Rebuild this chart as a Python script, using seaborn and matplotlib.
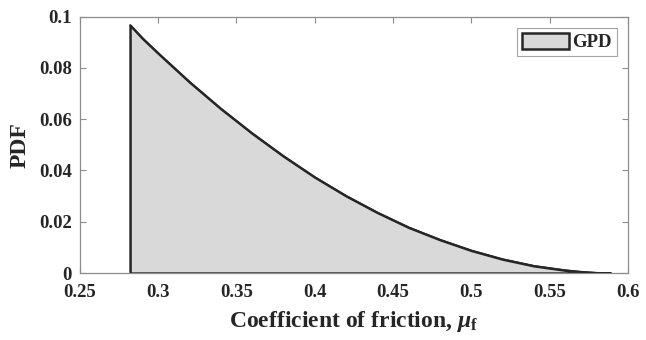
import matplotlib
matplotlib.use("Agg")
import matplotlib.pyplot as plt
from matplotlib.patches import Patch
import seaborn as sns
import pandas as pd

# Fitted GPD density of the friction coefficient
mu_f = [0.282, 0.290, 0.300, 0.320, 0.340, 0.360, 0.380, 0.400, 0.420,
        0.440, 0.460, 0.480, 0.500, 0.520, 0.540, 0.560, 0.570, 0.580, 0.589]
pdf = [0.0967, 0.0915, 0.0857, 0.0745, 0.0641, 0.0545, 0.0456, 0.0374, 0.0301,
       0.0236, 0.0178, 0.0130, 0.0088, 0.0054, 0.0028, 0.0011, 0.0005, 0.0001, 0.0]

x_ticks = [0.25, 0.30, 0.35, 0.40, 0.45, 0.50, 0.55, 0.60]
x_tick_labels = ["0.25", "0.3", "0.35", "0.4", "0.45", "0.5", "0.55", "0.6"]
y_ticks = [0.0, 0.02, 0.04, 0.06, 0.08, 0.10]
y_tick_labels = ["0", "0.02", "0.04", "0.06", "0.08", "0.1"]
series_name = "GPD"

df = pd.DataFrame({"mu_f": mu_f, "pdf": pdf})

sns.set_theme(style="white")
plt.rcParams["font.family"] = ["Liberation Serif", "DejaVu Serif"]
plt.rcParams["font.weight"] = "bold"
plt.rcParams["mathtext.fontset"] = "custom"
plt.rcParams["mathtext.rm"] = "Liberation Serif:bold"
plt.rcParams["mathtext.it"] = "Liberation Serif:italic"
plt.rcParams["mathtext.bf"] = "Liberation Serif:bold"

fig = plt.figure(figsize=(6.46, 3.40), dpi=100)
ax = fig.add_axes([0.1238, 0.197, 0.848, 0.754])

fill_col = "#d9d9d9"
edge_col = "#262626"
ax.fill_between(df["mu_f"], df["pdf"], 0, facecolor=fill_col,
                edgecolor=edge_col, linewidth=1.8, zorder=2)
sns.lineplot(data=df, x="mu_f", y="pdf", ax=ax, color=edge_col,
             linewidth=1.2, zorder=3, legend=False)

ax.set_xlim(0.25, 0.60)
ax.set_ylim(0, 0.10)
ax.set_xticks(x_ticks)
ax.set_xticklabels(x_tick_labels)
ax.set_yticks(y_ticks)
ax.set_yticklabels(y_tick_labels)

spine_col = "#8c8c8c"
for s in ax.spines.values():
    s.set_visible(True)
    s.set_color(spine_col)
    s.set_linewidth(0.9)

ax.tick_params(direction="in", length=4, width=0.8, color=spine_col,
               top=True, right=True, bottom=True, left=True,
               labelsize=13.5, labelcolor="#262626")
ax.tick_params(axis="x", pad=8)
ax.tick_params(axis="y", pad=6)
for lbl in ax.get_xticklabels() + ax.get_yticklabels():
    lbl.set_fontweight("bold")

ax.set_xlabel(r"Coefficient of friction, $\mu_{\mathbf{f}}$", fontsize=17,
              fontweight="bold", color="#262626", labelpad=6)
ax.set_ylabel("PDF", fontsize=17, fontweight="bold", color="#262626",
              labelpad=6)

handle = Patch(facecolor=fill_col, edgecolor=edge_col, linewidth=1.8,
               label=series_name)
leg = ax.legend(handles=[handle], loc="upper right", fontsize=13.5,
                frameon=True, fancybox=False, borderpad=0.25,
                handlelength=2.5, handleheight=1.0, handletextpad=0.2,
                borderaxespad=0.6)
leg.get_frame().set_edgecolor("#8c8c8c")
leg.get_frame().set_linewidth(0.8)
for t in leg.get_texts():
    t.set_fontweight("bold")
    t.set_color("#262626")

ax.grid(False)
fig.savefig("out.png", dpi=100, facecolor="white")
